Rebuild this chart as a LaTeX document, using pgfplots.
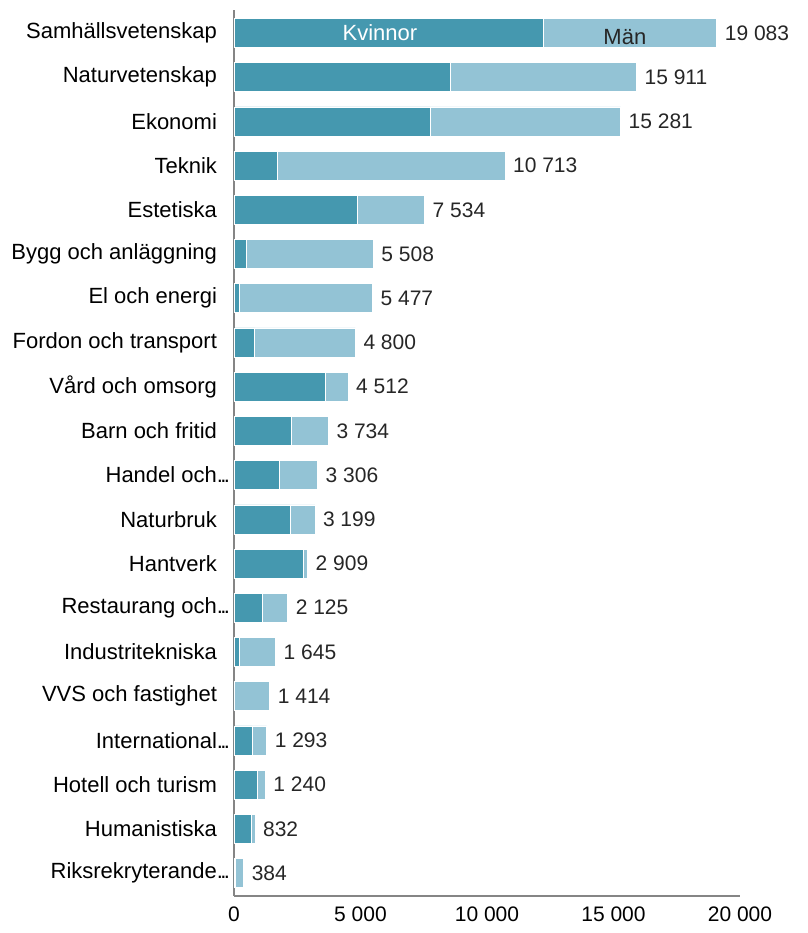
\documentclass[border=0pt]{standalone}
\usepackage{pgfplots}
\pgfplotsset{compat=1.18}
\usepackage{fontspec}
\setmainfont{Liberation Sans}
\definecolor{kv}{HTML}{4598AF}
\definecolor{man}{HTML}{93C3D5}
\definecolor{axgray}{HTML}{858585}
\newcommand{\trunc}{\rlap{.\kern-1.3pt.\kern-1.3pt.}\hspace{-4pt}}
\begin{document}
\begin{tikzpicture}
\begin{axis}[
  name=ax,
  scale only axis,
  width=253pt, height=443pt,
  xbar stacked,
  bar width=14.5pt,
  xmin=0, xmax=20000,
  ymin=-0.52, ymax=19.52,
  axis x line*=bottom,
  axis y line*=left,
  axis line style={axgray, line width=1pt},
  major tick length=0pt,
  xtick={0,5000,10000,15000,20000},
  scaled x ticks=false,
  xticklabel={\pgfmathprintnumber[1000 sep={\ },assume math mode=true]{\tick}},
  xticklabel style={font=\fontsize{10.5}{12}\selectfont, yshift=-2pt},
  ytick={0,...,19},
  yticklabels={Riksrekryterande\trunc,Humanistiska,Hotell och turism,International\trunc,VVS och fastighet,Industritekniska,Restaurang och\trunc,Hantverk,Naturbruk,Handel och\trunc,Barn och fritid,Vård och omsorg,Fordon och transport,El och energi,Bygg och anläggning,Estetiska,Teknik,Ekonomi,Naturvetenskap,Samhällsvetenskap},
  yticklabel style={font=\fontsize{11}{13}\selectfont, xshift=-5pt},
  clip=false,
]
\addplot[fill=kv, draw=white, line width=0.3pt] coordinates {
(50,0) (684,1) (936,2) (723,3) (20,4) (198,5) (1134,6) (2727,7) (2214,8) (1806,9)
(2253,10) (3597,11) (817,12) (210,13) (500,14) (4889,15) (1700,16) (7761,17) (8565,18) (12213,19)};
\addplot[fill=man, draw=white, line width=0.3pt] coordinates {
(334,0) (148,1) (304,2) (570,3) (1394,4) (1447,5)
(991,6) (182,7) (985,8) (1500,9) (1481,10)
(915,11) (3983,12) (5267,13) (5008,14) (2645,15)
(9013,16) (7520,17) (7346,18) (6870,19)};
\coordinate (kvlab) at (axis cs:5770,19);
\coordinate (manlab) at (axis cs:15450,18.9);
\end{axis}
\begin{axis}[
  at={(ax.south west)}, anchor=south west,
  scale only axis,
  width=253pt, height=443pt,
  xmin=0, xmax=20000,
  ymin=-0.52, ymax=19.52,
  hide axis, clip=false,
]
\addplot[only marks, mark=none,
  nodes near coords, point meta=explicit symbolic,
  every node near coord/.style={anchor=west, xshift=0.5pt, font=\fontsize{10.5}{12}\selectfont, text=black!85}] coordinates {
(384,0) [384] (832,1) [832] (1240,2) [1 240] (1293,3) [1 293] (1414,4) [1 414] (1645,5) [1 645]
(2125,6) [2 125] (2909,7) [2 909] (3199,8) [3 199] (3306,9) [3 306] (3734,10) [3 734]
(4512,11) [4 512] (4800,12) [4 800] (5477,13) [5 477] (5508,14) [5 508] (7534,15) [7 534]
(10713,16) [10 713] (15281,17) [15 281] (15911,18) [15 911] (19083,19) [19 083]};
\end{axis}
\node[text=white, font=\fontsize{11}{13}\selectfont] at (kvlab) {Kvinnor};
\node[text=black!85, font=\fontsize{11}{13}\selectfont] at (manlab) {Män};
\path[use as bounding box] (ax.south west) ++(-117pt,-18.5pt) rectangle ++(404pt,466.5pt);
\end{tikzpicture}
\end{document}
